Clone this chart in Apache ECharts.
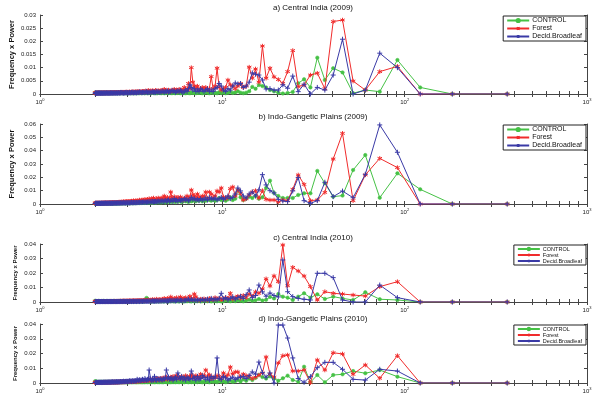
<!DOCTYPE html>
<html lang="en">
<head>
<meta charset="UTF-8">
<title>Frequency x Power spectra</title>
<script src="https://cdn.jsdelivr.net/npm/echarts@6/dist/echarts.min.js"></script>
<style>html,body{margin:0;padding:0;background:#fff;}</style>
</head>
<body>
<div id="main" style="width:600px;height:395px;"></div>
<script>
// harmonics k = 1..182 of a 365 day record, period = 365 / k (days)
var RECORD_DAYS = 365;
// all spectra below are in units of 1e-4
var UNIT = 1e-4;

var seriesNames = ['CONTROL', 'Forest', 'Decid.Broadleaf'];
var panelTitles = ['a) Central India (2009)', 'b) Indo-Gangetic Plains (2009)',
                   'c) Central India (2010)', 'd) Indo-Gangetic Plains (2010)'];
var yMax = [0.03, 0.06, 0.04, 0.04];
var yStep = [0.005, 0.01, 0.01, 0.01];

// a) Central India 2009
var aControl = [0,0,25,129,9,15,3,82,98,53,
  138,25,56,41,8,4,2,5,10,15,
  25,30,34,20,27,10,5,3,5,10,
  6,4,8,5,3,6,4,7,3,5,
  4,6,3,5,7,4,3,6,4,5,
  3,5,4,6,3,4,5,3,4,6,
  4,3,5,4,6,3,4,5,3,4,
  5,3,4,6,4,3,5,4,3,5,
  4,6,3,4,5,3,4,5,4,3,
  5,4,3,6,4,5,3,4,5,4,
  3,5,4,3,6,4,3,5,4,3,
  4,5,3,4,3,5,4,3,4,5,
  3,4,5,3,4,3,5,4,3,4,
  5,3,4,3,4,5,3,4,3,5,
  4,3,4,5,3,4,3,4,5,3,
  4,3,5,4,3,4,3,5,4,3,
  4,5,3,4,3,4,5,3,4,3,
  5,4,3,4,5,3,4,3,4,5,
  4,5];
var aForest = [0,0,0,105,85,15,49,281,275,20,
  79,72,34,28,165,85,40,55,65,98,
  60,182,45,95,60,102,30,25,40,30,
  20,30,35,53,25,20,15,25,98,30,
  20,66,20,15,25,20,25,20,15,30,
  20,30,45,100,20,40,15,20,25,15,
  15,12,18,10,15,12,18,14,12,10,
  12,15,10,12,14,18,12,10,14,12,
  10,13,9,12,14,9,10,13,8,12,
  9,11,14,8,9,12,7,10,9,10,
  8,9,7,9,8,10,7,8,9,6,
  8,7,9,6,8,7,6,8,6,7,
  7,6,8,6,5,7,6,7,5,6,
  6,7,5,6,5,6,5,6,5,6,
  5,6,5,4,6,5,5,4,5,6,
  4,5,5,4,5,4,5,4,5,4,
  4,5,4,4,5,4,4,4,5,4,
  4,4,4,5,4,4,4,4,3,4,
  4,4];
var aDecid = [0,0,0,100,155,15,0,208,72,15,
  25,0,37,9,68,22,35,15,15,20,
  19,53,72,75,80,45,30,25,40,38,
  42,30,15,20,10,15,30,40,25,20,
  10,15,10,20,15,10,15,20,10,15,
  10,20,15,25,35,20,10,15,10,5,
  10,15,8,12,10,6,12,9,14,8,
  10,7,12,8,10,6,9,11,7,8,
  6,9,7,10,5,8,6,9,7,5,
  8,6,7,5,9,6,8,5,7,6,
  5,7,6,8,5,6,7,4,6,5,
  6,4,7,5,6,4,5,6,4,5,
  5,4,6,5,4,5,3,5,4,6,
  4,5,3,4,5,4,3,5,4,3,
  4,3,5,4,3,4,3,4,5,3,
  4,3,4,3,4,3,5,3,4,3,
  3,4,3,4,3,3,4,3,4,3,
  3,4,3,3,4,3,3,4,3,3,
  4,3];

// b) Indo-Gangetic Plains 2009
var bControl = [0,0,110,230,47,367,255,63,55,155,
  248,80,80,68,45,45,45,60,83,175,
  120,50,40,60,45,55,40,30,50,105,
  40,30,50,35,25,40,30,45,30,25,
  35,25,30,40,25,30,20,35,25,30,
  20,30,25,20,30,15,25,20,30,20,
  15,25,20,18,22,15,20,25,15,20,
  18,15,22,18,12,20,15,18,12,15,
  12,15,18,10,14,12,16,10,13,12,
  10,13,11,9,12,10,8,11,10,9,
  8,10,9,7,10,8,9,7,8,9,
  7,8,6,9,7,8,6,7,8,6,
  7,6,8,5,7,6,5,7,6,5,
  6,5,7,5,6,4,6,5,4,6,
  5,4,6,5,4,5,6,4,5,4,
  5,4,5,6,4,5,4,5,4,6,
  4,5,4,5,6,4,5,4,5,4,
  5,4,5,4,6,4,5,4,5,4,
  5,4];
var bForest = [0,0,0,273,342,218,25,530,337,87,
  30,25,147,218,110,25,30,15,30,30,
  35,100,45,100,90,68,40,30,80,105,
  60,128,115,53,40,53,120,90,98,60,
  50,75,90,40,90,55,60,45,50,75,
  40,60,70,105,50,40,60,35,45,30,
  40,53,35,50,45,30,55,40,50,90,
  40,35,50,30,45,60,35,40,45,30,
  35,45,30,40,25,35,45,30,40,25,
  30,40,25,35,30,25,35,20,30,25,
  30,20,25,30,20,25,18,22,25,20,
  18,25,20,15,22,18,20,15,18,20,
  15,18,20,15,17,12,18,15,12,16,
  14,12,15,10,14,12,10,13,11,12,
  10,12,9,11,10,12,9,10,8,11,
  9,10,8,9,10,7,9,8,10,7,
  8,9,7,8,9,6,8,7,8,6,
  7,8,6,7,6,8,7,6,7,6,
  7,6];
var bDecid = [0,0,0,388,593,223,47,97,55,163,
  25,5,25,198,98,18,23,35,83,100,
  143,220,105,60,90,75,45,60,98,120,
  75,50,40,60,45,35,50,40,30,45,
  35,40,50,30,45,35,30,40,25,35,
  30,40,35,50,30,25,35,30,40,25,
  30,25,35,20,30,25,40,20,30,25,
  20,30,25,20,28,22,18,25,20,22,
  18,22,20,15,20,18,15,20,16,18,
  15,18,14,16,12,15,14,12,15,13,
  12,14,11,13,12,10,12,11,9,12,
  10,11,9,10,12,9,10,8,10,9,
  8,10,9,7,9,8,10,7,8,9,
  7,8,9,6,8,7,8,6,7,8,
  6,7,8,6,7,5,7,6,7,5,
  6,7,5,6,7,5,6,5,6,7,
  5,6,5,6,4,6,5,6,5,4,
  6,5,4,5,6,4,5,4,5,6,
  5,4];

// c) Central India 2010
var cControl = [0,0,0,14,19,67,14,25,37,21,
  53,30,60,37,14,30,37,55,25,35,
  15,10,20,12,8,15,10,5,8,12,
  6,10,5,8,12,6,4,7,5,10,
  6,4,8,5,7,12,6,4,8,5,
  7,5,9,4,6,8,5,7,4,6,
  5,8,4,6,5,7,4,6,8,5,
  6,4,7,5,8,4,6,5,7,4,
  6,5,8,4,6,5,7,4,6,5,
  4,7,15,20,28,18,5,6,4,5,
  7,5,4,6,5,8,4,6,5,7,
  5,4,6,5,7,4,6,5,4,6,
  5,7,4,6,5,4,6,5,7,4,
  6,5,4,7,5,6,4,5,6,4,
  5,6,4,7,5,4,6,5,4,6,
  5,4,6,5,7,4,5,6,4,5,
  6,4,5,7,4,6,5,4,6,5,
  4,6,5,4,7,5,4,6,5,4,
  6,8];
var cForest = [0,0,0,140,106,41,48,55,60,71,
  14,106,179,214,239,112,393,140,180,110,
  160,90,60,70,40,55,30,45,25,40,
  30,20,60,25,30,20,15,25,20,30,
  15,20,25,12,18,22,15,20,12,15,
  35,55,15,25,40,15,20,30,25,15,
  25,35,20,15,30,20,25,15,20,35,
  15,20,25,12,18,25,15,20,12,15,
  18,12,15,20,10,15,12,18,10,14,
  12,10,15,8,12,10,14,9,11,8,
  10,12,8,10,9,7,11,8,9,7,
  8,10,7,9,6,8,7,9,6,8,
  7,6,8,5,7,6,8,5,7,6,
  5,7,6,5,6,4,6,5,4,6,
  5,4,6,5,4,5,4,5,6,4,
  5,4,5,3,5,4,5,4,3,5,
  4,3,5,4,3,4,5,3,4,3,
  4,3,4,5,3,4,3,4,3,4,
  3,4];
var cDecid = [0,0,0,30,117,0,0,14,168,198,
  198,14,19,25,37,71,290,35,45,62,
  40,70,117,45,30,83,50,25,40,30,
  20,35,25,15,30,20,60,25,15,20,
  15,25,10,20,15,12,18,10,15,12,
  10,15,12,18,10,20,15,10,12,8,
  10,12,8,15,10,7,12,9,10,8,
  12,7,9,6,10,8,7,9,6,8,
  7,5,8,6,7,5,6,8,5,6,
  5,7,4,6,5,6,4,5,6,4,
  5,4,6,3,5,4,5,3,4,5,
  4,3,5,4,3,4,5,3,4,3,
  4,3,4,3,5,3,4,3,3,4,
  3,4,3,3,4,3,3,4,3,3,
  3,3,4,3,3,3,4,3,3,3,
  3,4,3,3,3,3,4,3,3,3,
  3,3,4,3,3,3,3,4,3,3,
  3,3,3,4,3,3,3,3,3,4,
  3,3];

// d) Indo-Gangetic Plains 2010
var dControl = [0,0,0,43,88,66,81,59,54,5,
  54,5,110,9,20,50,32,15,30,45,
  30,40,54,35,20,30,15,25,10,20,
  12,8,15,10,5,12,8,15,6,10,
  8,12,5,10,7,9,5,8,10,6,
  9,5,8,6,10,5,7,9,5,8,
  6,9,5,7,8,5,10,6,8,5,
  7,5,9,6,8,10,5,7,6,9,
  5,8,6,10,7,5,8,6,9,5,
  7,6,8,5,9,6,7,5,8,6,
  5,7,6,9,5,8,6,5,7,6,
  8,5,7,6,5,8,6,7,5,6,
  7,5,6,8,5,7,6,5,8,6,
  5,7,6,5,8,6,5,7,6,5,
  7,5,6,8,5,6,7,5,6,8,
  5,7,6,5,8,6,5,7,6,5,
  8,6,5,7,6,5,8,6,7,5,
  6,8,5,7,6,5,8,6,7,10,
  8,12];
var dForest = [0,0,0,185,32,122,59,197,205,88,
  156,2,88,81,81,190,185,136,40,60,
  176,68,54,40,30,45,50,60,40,75,
  75,60,108,55,40,68,30,45,50,35,
  40,30,55,45,88,50,40,60,35,45,
  50,40,35,55,45,30,40,50,35,30,
  45,35,30,40,50,35,30,45,25,40,
  30,35,25,40,30,25,35,30,20,30,
  25,30,20,28,22,25,18,24,20,22,
  18,22,16,20,15,18,16,14,18,15,
  14,16,12,15,13,11,14,12,10,13,
  11,12,10,9,12,10,8,11,9,10,
  8,10,9,7,9,8,7,9,6,8,
  7,8,6,7,8,6,5,7,6,5,
  6,7,5,6,5,7,5,6,4,5,
  5,6,4,5,6,4,5,4,5,6,
  4,5,4,5,3,5,4,5,4,3,
  5,4,3,4,5,3,4,3,4,5,
  4,3];
var dDecid = [0,0,0,81,93,20,25,93,140,140,
  104,43,5,30,170,305,393,393,0,68,
  40,70,142,60,75,50,30,45,40,35,
  25,40,30,20,35,45,25,30,170,40,
  30,45,20,35,25,40,50,30,25,45,
  20,35,30,81,25,30,40,20,35,25,
  45,30,35,68,25,40,30,20,35,30,
  25,40,30,88,35,25,30,20,25,30,
  20,25,30,18,22,45,20,25,15,22,
  30,88,20,25,18,22,30,15,20,25,
  18,20,15,22,16,18,25,14,16,12,
  15,12,14,16,10,13,12,15,10,12,
  10,12,9,11,10,8,12,9,10,8,
  9,10,7,8,9,6,8,7,9,6,
  7,8,6,7,5,8,6,7,5,6,
  6,5,7,5,6,4,6,5,4,6,
  5,4,6,5,4,5,3,5,4,5,
  4,5,3,4,5,4,3,4,5,3,
  4,3];

var panelData = [
  [aControl, aForest, aDecid],
  [bControl, bForest, bDecid],
  [cControl, cForest, cDecid],
  [dControl, dForest, dDecid]
];

// layout of the four stacked axes boxes
var boxes = [
  { top: 15, height: 79, titleY: 8, nameSize: 7.5, nameGap: 24, legendFont: 7, legendItemH: 4, gap: 1 },
  { top: 124, height: 80, titleY: 117, nameSize: 7.5, nameGap: 24, legendFont: 7, legendItemH: 4, gap: 1 },
  { top: 244, height: 58, titleY: 238, nameSize: 6, nameGap: 22, legendFont: 5.5, legendItemH: 3, gap: 0 },
  { top: 324, height: 59, titleY: 319, nameSize: 6, nameGap: 22, legendFont: 5.5, legendItemH: 3, gap: 0 }
];

var colors = ['#45c145', '#f02c2c', '#3a3aa6'];
var STAR = 'path://M0,-5L0,5M-4.3,-2.5L4.3,2.5M-4.3,2.5L4.3,-2.5';
var PLUS = 'path://M0,-5L0,5M-5,0L5,0';
var symbols = ['circle', STAR, PLUS];
var symbolSizes = [3.5, 4.5, 5];

var logTicks = [1,2,3,4,5,6,7,8,9,10,20,30,40,50,60,70,80,90,100,200,300,400,500,600,700,800,900,1000];
var AXIS_COLOR = '#444';

var grids = [], xAxes = [], yAxes = [], series = [], legends = [], graphics = [];

boxes.forEach(function (b, i) {
    grids.push({ left: 40, right: 13, top: b.top, height: b.height, containLabel: false, outerBoundsMode: 'none' });

    var xBase = {
        type: 'log', logBase: 10, gridIndex: i, min: 1, max: 1000,
        axisLine: { show: true, lineStyle: { color: AXIS_COLOR, width: 1 } },
        axisTick: { show: true, inside: true, length: 3, customValues: logTicks, lineStyle: { color: AXIS_COLOR } },
        splitLine: { show: false }
    };
    xAxes.push(Object.assign({}, xBase, {
        position: 'bottom',
        axisLabel: {
            customValues: [1, 10, 100, 1000],
            fontSize: 6, color: '#222', margin: 4,
            formatter: function (v) { return '10{s|' + Math.round(Math.log10(v)) + '}'; },
            rich: { s: { fontSize: 4, verticalAlign: 'top', padding: [0, 0, 4, 0] } }
        }
    }));
    xAxes.push(Object.assign({}, xBase, { position: 'top', axisLabel: { show: false } }));

    var yBase = {
        type: 'value', gridIndex: i, min: 0, max: yMax[i], interval: yStep[i],
        axisLine: { show: true, lineStyle: { color: AXIS_COLOR, width: 1 } },
        axisTick: { show: true, inside: true, length: 3, lineStyle: { color: AXIS_COLOR } },
        splitLine: { show: false }
    };
    yAxes.push(Object.assign({}, yBase, {
        position: 'left',
        name: 'Frequency x Power', nameLocation: 'middle', nameGap: b.nameGap,
        nameMoveOverlap: false,
        nameTextStyle: { fontSize: b.nameSize, fontWeight: 'bold', color: '#111' },
        axisLabel: { fontSize: 6, color: '#222', margin: 4 }
    }));
    yAxes.push(Object.assign({}, yBase, { position: 'right', axisLabel: { show: false } }));

    panelData[i].forEach(function (arr, s) {
        series.push({
            name: seriesNames[s],
            type: 'line',
            xAxisIndex: 2 * i,
            yAxisIndex: 2 * i,
            data: arr.map(function (v, k) { return [RECORD_DAYS / (k + 1), v * UNIT]; }),
            symbol: symbols[s],
            symbolSize: symbolSizes[s],
            showSymbol: true,
            showAllSymbol: true,
            lineStyle: { color: colors[s], width: 1 },
            itemStyle: { color: colors[s], borderColor: colors[s], borderWidth: s === 0 ? 0.5 : 1 },
            emphasis: { disabled: true },
            z: 2 + s
        });
    });

    legends.push({
        orient: 'vertical', right: 14, top: b.top + 1,
        data: seriesNames,
        backgroundColor: '#fff', borderColor: '#222', borderWidth: 1,
        padding: [1, 4, 1, 3], itemGap: b.gap,
        itemWidth: 22, itemHeight: b.legendItemH,
        textStyle: { fontSize: b.legendFont, color: '#111', padding: [0, 0, 0, -2] },
        selectedMode: false
    });

    graphics.push({
        type: 'text', x: 313, y: b.titleY,
        style: { text: panelTitles[i], fill: '#111', font: '8px "Liberation Sans", Arial, sans-serif',
                 textAlign: 'center', textVerticalAlign: 'middle' }
    });
});

var myChart = echarts.init(document.getElementById('main'));
myChart.setOption({
    animation: false,
    textStyle: { fontFamily: '"Liberation Sans", Arial, sans-serif' },
    grid: grids,
    xAxis: xAxes,
    yAxis: yAxes,
    legend: legends,
    graphic: graphics,
    series: series
});
</script>
</body>
</html>
